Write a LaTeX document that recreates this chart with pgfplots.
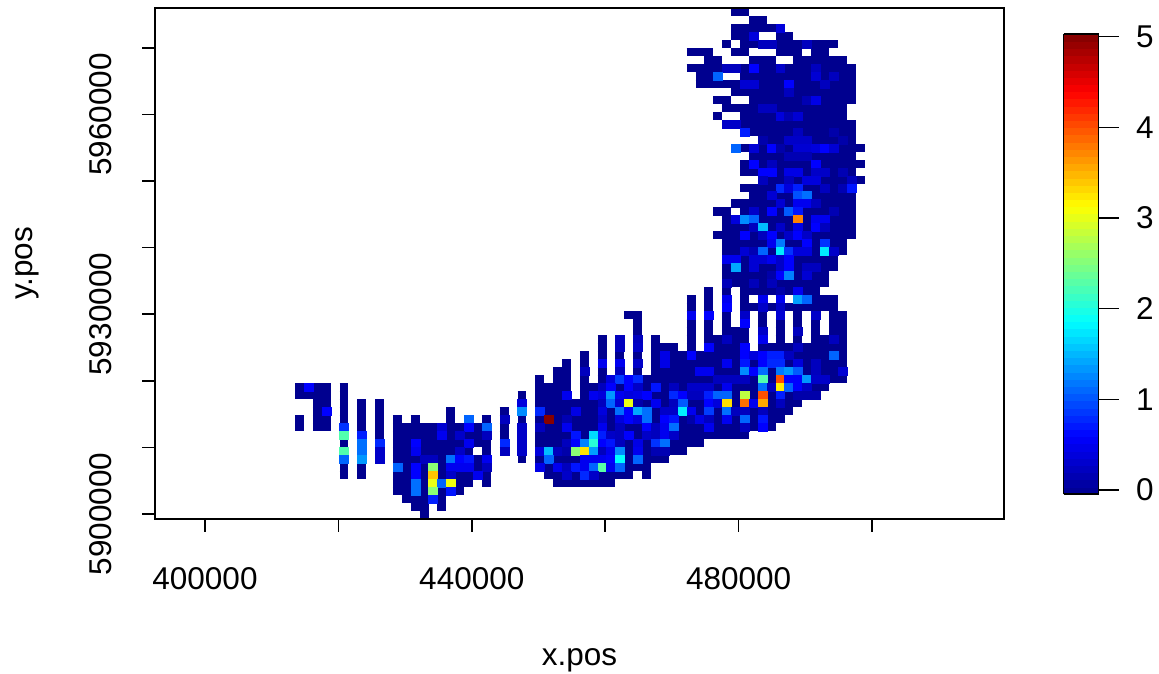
\documentclass[border=0pt]{standalone}
\usepackage{fontspec}
\setmainfont{Liberation Sans}
\usepackage{pgfplots}
\usepackage{pgfplotstable}
\pgfplotsset{compat=1.18}
\newcommand{\rfont}{\fontsize{31.5}{37}\selectfont}
\definecolor{lowblue}{RGB}{0,0,143}

% cell grid: k = row from the top, c = column from the left
% occupied runs of cells at about the lowest value
\pgfplotstableread{
k c1 c2
0 49 50
1 51 52
2 49 54
3 49 51
3 54 55
4 48 48
4 50 60
5 44 46
5 49 50
5 54 56
5 58 59
6 46 47
6 51 53
6 56 61
7 44 62
8 45 47
8 50 62
9 45 62
10 49 62
11 47 48
11 51 62
12 48 61
13 47 47
13 50 61
14 48 62
15 50 62
16 52 62
17 49 63
18 51 62
19 50 63
20 50 62
21 52 63
22 50 62
23 51 62
24 49 62
25 47 48
25 50 62
26 48 62
27 48 62
28 47 62
29 48 61
30 48 61
31 48 60
32 48 60
33 48 59
34 48 59
35 46 46
35 48 48
35 50 58
36 44 44
36 46 46
36 48 48
36 50 50
36 52 52
36 54 54
36 56 60
37 44 44
37 46 46
37 48 48
37 50 60
38 37 38
38 44 44
38 46 46
38 48 48
38 50 50
38 52 52
38 54 54
38 56 56
38 58 58
38 60 61
39 38 38
39 44 44
39 46 46
39 48 48
39 50 50
39 52 52
39 54 54
39 56 56
39 58 58
39 60 61
40 38 38
40 44 44
40 46 46
40 48 50
40 52 52
40 54 54
40 56 56
40 58 58
40 60 61
41 34 34
41 36 36
41 38 38
41 40 40
41 44 44
41 46 50
41 52 52
41 54 54
41 56 56
41 58 61
42 34 34
42 36 36
42 38 38
42 40 42
42 44 44
42 46 50
42 52 61
43 32 32
43 34 34
43 36 36
43 38 38
43 40 61
44 30 30
44 32 32
44 34 34
44 36 36
44 38 38
44 40 61
45 29 30
45 32 32
45 34 34
45 36 36
45 38 38
45 40 61
46 27 27
46 29 30
46 32 32
46 34 61
47 0 3
47 5 5
47 27 30
47 32 59
48 0 3
48 5 5
48 25 25
48 27 30
48 32 58
49 2 3
49 5 5
49 7 7
49 9 9
49 25 25
49 27 56
50 2 3
50 5 5
50 7 7
50 9 9
50 17 17
50 23 23
50 25 25
50 27 55
51 0 0
51 2 3
51 5 5
51 7 7
51 9 9
51 11 11
51 13 13
51 17 17
51 19 19
51 21 21
51 23 23
51 25 25
51 27 54
52 0 0
52 2 3
52 5 5
52 7 7
52 9 9
52 11 21
52 23 23
52 25 25
52 27 53
53 5 5
53 7 7
53 9 9
53 11 21
53 23 23
53 25 25
53 27 50
54 5 5
54 7 7
54 9 9
54 11 21
54 23 23
54 25 25
54 27 45
55 5 5
55 7 7
55 9 9
55 11 19
55 21 21
55 23 23
55 25 25
55 27 43
56 5 5
56 7 7
56 9 9
56 11 21
56 25 25
56 27 41
57 5 5
57 7 7
57 11 21
57 27 39
58 5 5
58 7 7
58 11 21
58 28 37
58 39 39
59 11 19
59 21 21
59 29 35
60 11 18
61 12 16
62 13 14
62 16 16
63 14 14
}\runs

% cells that stand out from the lowest value
\pgfplotstableread{
k c v
2 54 .39
3 51 .39
4 52 .22
4 53 .22
4 57 .22
7 48 .22
7 49 .22
7 51 .59
7 54 .28
7 58 .22
8 47 1.09
8 58 .34
8 60 .22
9 50 .34
9 51 .34
9 55 .59
9 59 .22
10 55 .22
11 57 .16
11 58 .45
12 52 .22
12 53 .22
13 54 .39
13 55 .16
13 56 .34
14 48 .28
14 49 .28
15 50 .74
15 56 .22
15 60 .11
16 52 .11
16 55 .28
16 56 .28
16 57 .28
16 61 .11
17 49 1.09
17 51 .34
17 53 .59
17 54 .11
17 56 .34
17 57 .34
17 58 .39
17 59 .59
17 60 .34
18 55 .16
18 56 .16
18 57 .16
19 51 .59
19 53 .22
19 58 .59
20 52 .59
20 53 .59
20 55 .45
20 56 .45
20 58 .28
20 59 .28
20 61 .16
21 52 .22
21 55 .22
21 57 .39
21 58 .39
21 62 .22
22 54 .79
22 55 .39
22 56 .74
22 59 .22
22 61 .16
22 62 .69
23 53 .34
23 56 .99
23 57 1.14
24 54 .34
24 56 .50
24 57 .50
24 58 .22
25 51 .28
25 53 .59
25 55 1.04
25 56 .69
25 60 .16
26 49 .39
26 50 1.28
26 51 1.09
26 56 3.75
26 58 .50
26 59 .50
27 51 .22
27 52 1.53
27 54 .28
27 56 .45
27 58 .59
27 59 .22
28 50 .59
28 52 .22
28 53 .59
28 55 .28
28 56 .59
28 57 .28
29 53 .50
29 54 1.19
29 57 .59
29 59 .84
30 50 .34
30 51 .16
30 52 1.09
30 54 1.76
30 55 .84
30 56 .39
30 57 .39
30 59 1.76
30 60 .28
31 48 .50
31 49 .50
31 51 .34
31 52 .34
31 53 .50
31 54 .28
31 55 .59
32 49 1.43
32 51 .34
32 54 .28
32 55 .59
32 57 .22
32 58 .22
33 53 .11
33 54 .59
33 55 1.23
33 57 .34
34 48 .20
34 51 .20
34 53 .20
35 54 .11
35 56 .50
36 48 .50
36 52 .50
36 54 .50
36 56 1.38
36 57 1.09
37 48 .59
37 52 .28
37 54 .28
38 44 .50
38 46 .59
38 50 .28
38 54 .34
38 58 .28
39 50 .59
40 52 .28
40 56 .22
41 36 .22
41 38 .22
41 48 .22
41 52 .50
41 60 .22
42 36 .22
42 38 .28
42 46 .59
42 50 .59
42 56 .22
43 41 .45
43 44 .59
43 50 .59
43 51 .39
43 52 .59
43 53 .74
43 54 .74
43 55 .22
43 60 1.09
44 34 .50
44 36 .50
44 38 .28
44 41 .45
44 48 .50
44 50 .69
44 52 .59
44 53 .79
44 54 .79
44 56 .39
44 58 .22
45 32 .22
45 36 .22
45 45 .50
45 46 .50
45 50 1.28
45 51 .59
45 52 1.14
45 54 1.19
45 55 1.34
45 56 1.04
45 58 .22
45 61 .34
46 35 .39
46 36 .89
46 37 .59
46 38 .79
46 47 .22
46 48 .22
46 49 .22
46 50 .22
46 52 2.26
46 54 4.00
46 55 .59
46 56 .59
46 57 1.34
46 58 .28
46 59 .28
47 1 .59
47 34 .22
47 35 .59
47 37 .59
47 38 .28
47 40 .69
47 42 .22
47 44 .28
47 45 .28
47 46 .28
47 48 .50
47 52 1.14
47 53 .22
47 54 3.21
47 55 1.09
47 56 .59
47 57 .28
48 30 .50
48 33 .50
48 34 .39
48 35 1.34
48 36 .50
48 37 .39
48 38 .45
48 39 .59
48 42 .79
48 43 .59
48 44 .22
48 45 .22
48 46 .74
48 47 1.09
48 48 1.09
48 50 2.80
48 52 4.00
48 54 .74
48 56 .11
48 57 .11
48 58 .11
49 25 .39
49 34 .22
49 35 1.09
49 36 .34
49 37 3.03
49 38 .11
49 40 .50
49 42 .22
49 43 1.04
49 46 .59
49 47 .39
49 48 3.28
49 50 3.85
49 51 .50
49 52 3.56
49 54 .22
50 3 .59
50 25 1.28
50 27 .79
50 31 .45
50 34 .39
50 36 1.14
50 37 .59
50 38 1.43
50 39 1.14
50 41 .28
50 42 .28
50 43 1.78
50 44 .50
50 46 .89
50 48 1.14
50 49 .22
50 50 .22
50 52 .22
51 19 1.09
51 23 .22
51 28 5.00
51 30 .16
51 34 .28
51 36 .39
51 37 .59
51 38 .39
51 39 1.14
51 41 .59
51 42 .69
51 44 .11
51 45 .45
51 46 .22
51 48 .50
51 50 1.09
51 52 .69
52 5 .84
52 16 .34
52 19 .59
52 21 1.09
52 25 .28
52 27 .22
52 30 .50
52 34 .50
52 36 .22
52 39 .59
52 40 .22
52 41 .50
52 42 1.14
52 46 .50
52 50 .22
52 52 .59
53 5 2.26
53 7 .74
53 16 .50
53 18 .28
53 21 .22
53 25 .28
53 31 .69
53 33 1.68
53 34 .74
53 35 .28
53 36 .22
53 37 .59
53 39 .28
53 40 .22
53 41 .50
53 42 .28
54 7 1.14
54 9 .79
54 13 .59
54 19 .50
54 23 .79
54 25 .28
54 30 .22
54 31 .59
54 32 1.23
54 33 2.06
54 34 .59
54 35 .69
54 36 .22
54 38 .45
54 40 .84
54 41 1.14
55 5 2.26
55 7 1.14
55 9 .28
55 13 .50
55 18 .28
55 23 .22
55 25 .28
55 27 .39
55 28 1.53
55 29 .22
55 30 .11
55 31 2.55
55 32 3.26
55 33 1.38
55 34 .22
55 35 .50
55 36 1.28
55 38 .50
55 40 .16
55 41 .16
56 5 1.09
56 7 1.34
56 9 .28
56 14 .22
56 15 .22
56 17 1.14
56 18 .59
56 19 .69
56 21 .50
56 28 1.09
56 32 .50
56 33 .50
56 34 .50
56 35 .59
56 36 1.86
56 38 1.09
57 11 1.09
57 13 .59
57 15 2.55
57 17 .50
57 18 .50
57 19 .50
57 21 .22
57 27 .45
57 29 .50
57 30 .22
57 31 .69
57 32 .50
57 33 1.09
57 34 2.30
57 35 .50
57 36 1.09
58 13 .59
58 15 3.41
58 17 .28
58 20 .50
58 30 .28
58 32 .79
58 33 .28
59 13 1.14
59 15 3.03
59 16 1.09
59 17 3.05
60 13 1.14
60 15 2.55
60 17 .69
61 15 .74
}\cells

\begin{document}
\begin{tikzpicture}[x=1pt,y=1pt]
\path[use as bounding box] (0,0) rectangle (1159,673);
\begin{axis}[
    at={(155pt,154pt)}, anchor=south west,
    scale only axis, width=849pt, height=511pt,
    xmin=392504, xmax=519790,
    ymin=5899249, ymax=5975976,
    axis on top,
    axis line style={line width=1.6pt},
    every tick/.style={black,line width=1.5pt},
    tick align=outside, major tick length=12.5pt,
    xtick pos=bottom, ytick pos=left,
    scaled ticks=false,
    xtick={400000,420000,...,500000},
    xticklabels={400000,,440000,,480000,},
    ytick={5900000,5910000,5920000,5930000,5940000,5950000,5960000,5970000},
    yticklabels={5900000,,,5930000,,,5960000,},
    xticklabel style={font=\rfont,anchor=base,yshift=-58pt},
    yticklabel style={font=\rfont,rotate=90,anchor=base,yshift=31pt},
    xlabel={x.pos}, ylabel={y.pos},
    xlabel style={font=\rfont,at={(axis description cs:0.5,-0.2857)},anchor=base},
    ylabel style={font=\rfont,at={(axis description cs:-0.1437,0.5)},anchor=base},
    colormap={tim}{rgb255(0)=(0,0,143) rgb255(8)=(0,0,255) rgb255(24)=(0,255,255) rgb255(40)=(255,255,0) rgb255(56)=(255,0,0) rgb255(64)=(128,0,0)},
    point meta min=-0.044, point meta max=5.03,
    colorbar sampled,
    colorbar style={
        samples=65,
        at={(parent axis.south east)}, anchor=south west,
        xshift=51pt, yshift=25pt,
        width=35pt, height=460pt,
        ytick={0,1,2,3,4,5},
        yticklabels={0,1,2,3,4,5},
        ytick pos=right,
        yticklabel pos=right,
        tick align=outside, major tick length=20pt,
        axis line style={line width=1.6pt},
        every tick/.style={black,line width=1.5pt},
        yticklabel style={font=\rfont,anchor=west,xshift=14pt},
    },
]
\addplot[draw=none, mark=none, forget plot,
    error bars/.cd, x dir=plus, x explicit, error mark=none,
    error bar style={line width=8.1pt,draw=lowblue,line cap=butt}]
    table[x expr=413494+1334.3*\thisrow{c1},
          y expr=5975376-1198.2*\thisrow{k},
          x error expr=1334.3*(\thisrow{c2}-\thisrow{c1}+1)] {\runs};
\addplot[scatter, only marks, mark=square*, mark size=4pt,
    scatter src=explicit,
    scatter/use mapped color={draw=mapped color,fill=mapped color},
    mark options={xscale=1.1125,line width=0.1pt}]
    table[x expr=414161+1334.3*\thisrow{c},
          y expr=5975376-1198.2*\thisrow{k},
          meta=v] {\cells};
\end{axis}
\end{tikzpicture}
\end{document}
